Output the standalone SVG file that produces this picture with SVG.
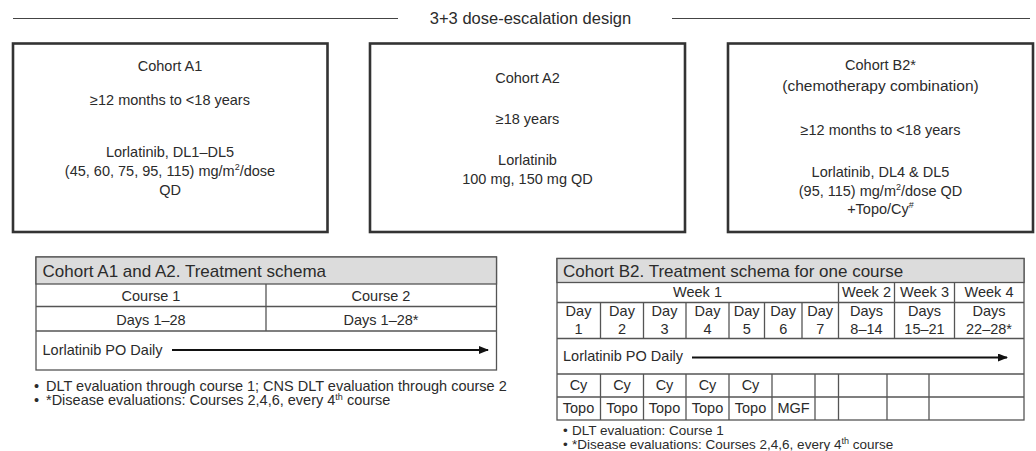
<svg xmlns="http://www.w3.org/2000/svg" width="1036" height="451" viewBox="0 0 1036 451">
<style>
text{font-family:"Liberation Sans",Arial,sans-serif;fill:#2b2b2b}
.c{text-anchor:middle;font-size:14.5px}
.t{font-size:17px}
.s{font-size:13.5px}
.sa{font-size:14.5px}
.box{fill:#fff;stroke:#333;stroke-width:2.6}
.tb{fill:#fff;stroke:#555;stroke-width:1.3}
.hd{fill:#dcdcdc;stroke:#555;stroke-width:1.3}
.ln{stroke:#555;stroke-width:1.3;fill:none}
.arr{stroke:#111;stroke-width:2;fill:none;marker-end:url(#ah)}
</style>
<defs>
<marker id="ah" markerWidth="10" markerHeight="8" refX="9" refY="4" orient="auto" markerUnits="userSpaceOnUse">
<path d="M0,0 L10,4 L0,8 Z" fill="#111"/>
</marker>
</defs>
<g id="header">
<line x1="13" y1="18.5" x2="398" y2="18.5" stroke="#444" stroke-width="1.2"/>
<line x1="672" y1="18.5" x2="1030" y2="18.5" stroke="#444" stroke-width="1.2"/>
<text x="530.5" y="23.5" class="c" style="font-size:16.5px">3+3 dose-escalation design</text>
</g>
<g id="cohortA1">
<rect x="13" y="43.5" width="314.5" height="188.5" class="box"/>
<text x="170" y="71" class="c">Cohort A1</text>
<text x="170" y="105" class="c">≥12 months to &lt;18 years</text>
<text x="170" y="157" class="c">Lorlatinib, DL1–DL5</text>
<text x="170" y="176" class="c">(45, 60, 75, 95, 115) mg/m<tspan dy="-6" style="font-size:9px">2</tspan><tspan dy="6">/dose</tspan></text>
<text x="170" y="195" class="c">QD</text>
</g>
<g id="cohortA2">
<rect x="370" y="43.5" width="315" height="188.5" class="box"/>
<text x="527.5" y="83" class="c">Cohort A2</text>
<text x="527.5" y="124" class="c">≥18 years</text>
<text x="527.5" y="165" class="c">Lorlatinib</text>
<text x="527.5" y="184" class="c">100 mg, 150 mg QD</text>
</g>
<g id="cohortB2">
<rect x="728" y="43.5" width="305" height="188.5" class="box"/>
<text x="880.5" y="70" class="c">Cohort B2*</text>
<text x="880.5" y="91" class="c" style="font-size:15.5px">(chemotherapy combination)</text>
<text x="880.5" y="135" class="c">≥12 months to &lt;18 years</text>
<text x="880.5" y="177" class="c">Lorlatinib, DL4 &amp; DL5</text>
<text x="880.5" y="196" class="c">(95, 115) mg/m<tspan dy="-6" style="font-size:9px">2</tspan><tspan dy="6">/dose QD</tspan></text>
<text x="880.5" y="214" class="c">+Topo/Cy<tspan dy="-6" style="font-size:9px">#</tspan></text>
</g>
<g id="tableA">
<rect x="36" y="257" width="460.5" height="113" class="tb"/>
<rect x="36" y="257" width="460.5" height="27" class="hd"/>
<line x1="36" y1="306.5" x2="496.5" y2="306.5" class="ln"/>
<line x1="36" y1="331" x2="496.5" y2="331" class="ln"/>
<line x1="266" y1="284" x2="266" y2="331" class="ln"/>
<text x="42.5" y="276.5" class="t">Cohort A1 and A2. Treatment schema</text>
<text x="151" y="301" class="c">Course 1</text>
<text x="381" y="301" class="c">Course 2</text>
<text x="151" y="325" class="c">Days 1–28</text>
<text x="381" y="325" class="c">Days 1–28*</text>
<text x="42.5" y="355" style="font-size:14.5px">Lorlatinib PO Daily</text>
</g>
<g id="tableB">
<rect x="557" y="258.5" width="467" height="161.5" class="tb"/>
<rect x="557" y="258.5" width="467" height="24" class="hd"/>
<line x1="557" y1="302.5" x2="1024" y2="302.5" class="ln"/>
<line x1="557" y1="338.5" x2="1024" y2="338.5" class="ln"/>
<line x1="557" y1="374" x2="1024" y2="374" class="ln"/>
<line x1="557" y1="397" x2="1024" y2="397" class="ln"/>
<line x1="838.5" y1="282.5" x2="838.5" y2="338.5" class="ln"/>
<line x1="894.5" y1="282.5" x2="894.5" y2="338.5" class="ln"/>
<line x1="954.5" y1="282.5" x2="954.5" y2="338.5" class="ln"/>
<line x1="600.5" y1="302.5" x2="600.5" y2="338.5" class="ln"/>
<line x1="643.5" y1="302.5" x2="643.5" y2="338.5" class="ln"/>
<line x1="686" y1="302.5" x2="686" y2="338.5" class="ln"/>
<line x1="729" y1="302.5" x2="729" y2="338.5" class="ln"/>
<line x1="764.5" y1="302.5" x2="764.5" y2="338.5" class="ln"/>
<line x1="802" y1="302.5" x2="802" y2="338.5" class="ln"/>
<line x1="600.5" y1="374" x2="600.5" y2="420" class="ln"/>
<line x1="643.5" y1="374" x2="643.5" y2="420" class="ln"/>
<line x1="686" y1="374" x2="686" y2="420" class="ln"/>
<line x1="729" y1="374" x2="729" y2="420" class="ln"/>
<line x1="772" y1="374" x2="772" y2="420" class="ln"/>
<line x1="815" y1="374" x2="815" y2="420" class="ln"/>
<line x1="838.5" y1="374" x2="838.5" y2="420" class="ln"/>
<line x1="887" y1="374" x2="887" y2="420" class="ln"/>
<line x1="929" y1="374" x2="929" y2="420" class="ln"/>
<text x="563" y="277" class="t">Cohort B2. Treatment schema for one course</text>
<text x="697.5" y="297" class="c">Week 1</text>
<text x="866.5" y="297" class="c">Week 2</text>
<text x="924.5" y="297" class="c">Week 3</text>
<text x="989" y="297" class="c">Week 4</text>
<text x="578.5" y="316" class="c">Day</text><text x="578.5" y="333.5" class="c">1</text>
<text x="622" y="316" class="c">Day</text><text x="622" y="333.5" class="c">2</text>
<text x="664.5" y="316" class="c">Day</text><text x="664.5" y="333.5" class="c">3</text>
<text x="707.5" y="316" class="c">Day</text><text x="707.5" y="333.5" class="c">4</text>
<text x="746.7" y="316" class="c">Day</text><text x="746.7" y="333.5" class="c">5</text>
<text x="783.2" y="316" class="c">Day</text><text x="783.2" y="333.5" class="c">6</text>
<text x="820.2" y="316" class="c">Day</text><text x="820.2" y="333.5" class="c">7</text>
<text x="866.5" y="316" class="c">Days</text><text x="866.5" y="333.5" class="c">8–14</text>
<text x="924.5" y="316" class="c">Days</text><text x="924.5" y="333.5" class="c">15–21</text>
<text x="989" y="316" class="c">Days</text><text x="989" y="333.5" class="c">22–28*</text>
<text x="563" y="361" style="font-size:14.5px">Lorlatinib PO Daily</text>
<text x="578.5" y="390" class="c">Cy</text>
<text x="622" y="390" class="c">Cy</text>
<text x="664.5" y="390" class="c">Cy</text>
<text x="707.5" y="390" class="c">Cy</text>
<text x="750.5" y="390" class="c">Cy</text>
<text x="578.5" y="413" class="c">Topo</text>
<text x="622" y="413" class="c">Topo</text>
<text x="664.5" y="413" class="c">Topo</text>
<text x="707.5" y="413" class="c">Topo</text>
<text x="750.5" y="413" class="c">Topo</text>
<text x="793.5" y="413" class="c">MGF</text>
</g>
<g id="connectors">
<line x1="172" y1="350" x2="488" y2="350" class="arr"/>
<line x1="692" y1="357.5" x2="1007" y2="357.5" class="arr"/>
</g>
<g id="notes">
<text x="34" y="391" class="sa">•</text>
<text x="46" y="391" class="sa">DLT evaluation through course 1; CNS DLT evaluation through course 2</text>
<text x="34" y="405" class="sa">•</text>
<text x="46" y="405" class="sa">*Disease evaluations: Courses 2,4,6, every 4<tspan dy="-5" style="font-size:9px">th</tspan><tspan dy="5"> course</tspan></text>
<text x="563" y="435" class="s">•</text>
<text x="572" y="435" class="s">DLT evaluation: Course 1</text>
<text x="563" y="449" class="s">•</text>
<text x="572" y="449" class="s">*Disease evaluations: Courses 2,4,6, every 4<tspan dy="-5" style="font-size:9px">th</tspan><tspan dy="5"> course</tspan></text>
</g>
</svg>
